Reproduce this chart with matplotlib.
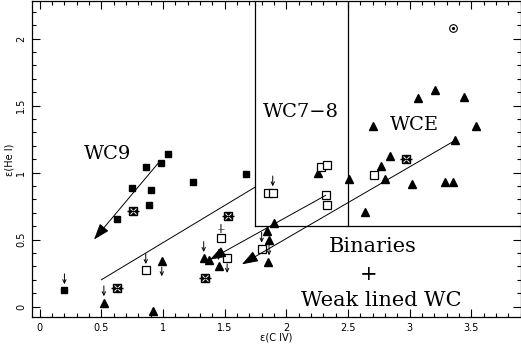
import matplotlib
matplotlib.use("Agg")
import matplotlib.pyplot as plt
from matplotlib.ticker import MultipleLocator

# ---- data ----
wc9_x = [0.20, 0.63, 0.75, 0.86, 0.89, 0.90, 0.98, 1.04, 1.24, 1.67]
wc9_y = [0.12, 0.65, 0.885, 1.04, 0.76, 0.87, 1.07, 1.14, 0.93, 0.99]

tri_x = [0.52, 0.92, 0.99, 1.33, 1.37, 1.45, 1.85, 1.86, 1.84, 1.90, 2.26, 2.51,
         2.64, 2.70, 2.77, 2.80, 2.84, 3.02, 3.07, 3.21, 3.29, 3.35, 3.37, 3.44, 3.54]
tri_y = [0.03, -0.03, 0.34, 0.36, 0.35, 0.30, 0.335, 0.495, 0.565, 0.62, 1.00, 0.955,
         0.705, 1.35, 1.05, 0.95, 1.125, 0.915, 1.555, 1.615, 0.93, 0.93, 1.24, 1.565, 1.35]

osq_x = [0.86, 1.47, 1.52, 1.80, 1.85, 1.89, 2.28, 2.33, 2.32, 2.33, 2.71]
osq_y = [0.27, 0.51, 0.365, 0.43, 0.845, 0.85, 1.04, 1.055, 0.83, 0.76, 0.985]

ast_x = [0.63, 0.76, 1.34, 1.53, 2.97]
ast_y = [0.14, 0.71, 0.21, 0.675, 1.10]

tgt_x = [3.35]
tgt_y = [2.075]

# limits: upper limits (down arrow above), lower limits (up arrow below)
upper_x = [0.20, 0.52, 0.86, 1.33, 1.45, 1.80, 1.89, 1.86]
upper_y = [0.12, 0.03, 0.27, 0.36, 0.30, 0.43, 0.85, 0.335]
lower_x = [0.99, 1.52]
lower_y = [0.34, 0.365]
cross_x = [1.47]
cross_y = [0.51]

# trend arrows (start -> end) and plain line
arrows = [((0.97, 1.08), (0.44, 0.50)),
          ((2.32, 0.83), (1.38, 0.35)),
          ((3.37, 1.24), (1.64, 0.315))]
plain_line_x = [0.50, 1.745]
plain_line_y = [0.20, 0.89]

# region boxes
box_left = 1.745
box_mid = 2.5
box_bottom = 0.6

W, H = 521, 352
fig = plt.figure(figsize=(W / 100, H / 100), dpi=100)
ax = fig.add_axes([32 / W, 1 - 317 / H, (520.5 - 32) / W, (317 - 1) / H])
ax.set_xlim(-0.063, 3.90)
ax.set_ylim(-0.078, 2.28)

ax.plot(wc9_x, wc9_y, 's', color='black', ms=4.3, zorder=3)
ax.plot(tri_x, tri_y, '^', color='black', ms=5.8, zorder=3, clip_on=False)
ax.plot(osq_x, osq_y, 's', mfc='white', mec='black', mew=0.9, ms=5.5, zorder=3)
ax.plot(ast_x, ast_y, 's', color='black', ms=5.5, zorder=3)
ax.plot(ast_x, ast_y, 'x', color='white', ms=4, mew=0.7, zorder=4)
ax.plot(ast_x, ast_y, '_', color='black', ms=8, mew=1.0, zorder=4)
ax.plot(tgt_x, tgt_y, 'o', mfc='white', mec='black', ms=5.5, mew=0.8, zorder=3)
ax.plot(tgt_x, tgt_y, '.', color='black', ms=2.5, zorder=4)

for x, y in zip(upper_x, upper_y):
    ax.annotate('', xy=(x, y), xycoords='data', xytext=(0, 12), textcoords='offset points',
                arrowprops=dict(arrowstyle='->,head_length=0.25,head_width=0.12',
                                lw=0.7, color='black', shrinkA=0, shrinkB=4.5))
for x, y in zip(lower_x, lower_y):
    ax.annotate('', xy=(x, y), xycoords='data', xytext=(0, -11), textcoords='offset points',
                arrowprops=dict(arrowstyle='<-,head_length=0.25,head_width=0.12',
                                lw=0.7, color='black', shrinkA=0, shrinkB=4.5))
for x, y in zip(cross_x, cross_y):
    ax.annotate('', xy=(x, y), xycoords='data', xytext=(0, 10), textcoords='offset points',
                arrowprops=dict(arrowstyle='-', lw=0.7, color='black', shrinkA=0, shrinkB=4))
    ax.annotate('\u2014', xy=(x, y), xycoords='data', xytext=(0, 6.5), textcoords='offset points',
                ha='center', va='center', fontsize=5)

for (x0, y0), (x1, y1) in arrows:
    ax.annotate('', xy=(x1, y1), xytext=(x0, y0),
                arrowprops=dict(arrowstyle='-|>,head_length=1.0,head_width=0.35',
                                lw=0.7, color='black', shrinkA=0, shrinkB=0,
                                mutation_scale=10))
ax.plot(plain_line_x, plain_line_y, color='black', lw=0.7)

ax.plot([box_left, box_left], [box_bottom, 2.28], color='black', lw=0.9)
ax.plot([box_mid, box_mid], [box_bottom, 2.28], color='black', lw=0.9)
ax.plot([box_left, 3.90], [box_bottom, box_bottom], color='black', lw=0.9)

serif = 'DejaVu Serif'
ax.text(0.55, 1.14, 'WC9', fontsize=14, family=serif, ha='center', va='center')
ax.text(2.12, 1.452, 'WC7\u22128', fontsize=14, family=serif, ha='center', va='center')
ax.text(3.04, 1.353, 'WCE', fontsize=14, family=serif, ha='center', va='center')
ax.text(2.70, 0.445, 'Binaries', fontsize=15, family=serif, ha='center', va='center')
ax.text(2.665, 0.24, '+', fontsize=15, family=serif, ha='center', va='center')
ax.text(2.77, 0.047, 'Weak lined WC', fontsize=15, family=serif, ha='center', va='center')

ax.xaxis.set_minor_locator(MultipleLocator(0.1))
ax.yaxis.set_minor_locator(MultipleLocator(0.1))
ax.set_xticks([0, 0.5, 1, 1.5, 2, 2.5, 3, 3.5])
ax.set_xticklabels(['0', '0.5', '1', '1.5', '2', '2.5', '3', '3.5'])
ax.set_yticks([0, 0.5, 1, 1.5, 2])
ax.set_yticklabels(['0', '0.5', '1', '1.5', '2'], rotation=90, va='center')
ax.tick_params(which='both', direction='in', top=True, right=True, labelsize=7, width=0.8)
ax.tick_params(which='major', length=6)
ax.tick_params(which='minor', length=3)
ax.tick_params(axis='x', pad=4)
ax.tick_params(axis='y', pad=4)
for s in ax.spines.values():
    s.set_linewidth(0.9)

fig.text(276 / W, 1 - 337 / H, '\u03b5(C IV)', fontsize=7, ha='center', va='center')
fig.text(9 / W, 1 - 160 / H, '\u03b5(He I)', fontsize=7, ha='center', va='center', rotation=90)

fig.savefig('out.png', dpi=100)
